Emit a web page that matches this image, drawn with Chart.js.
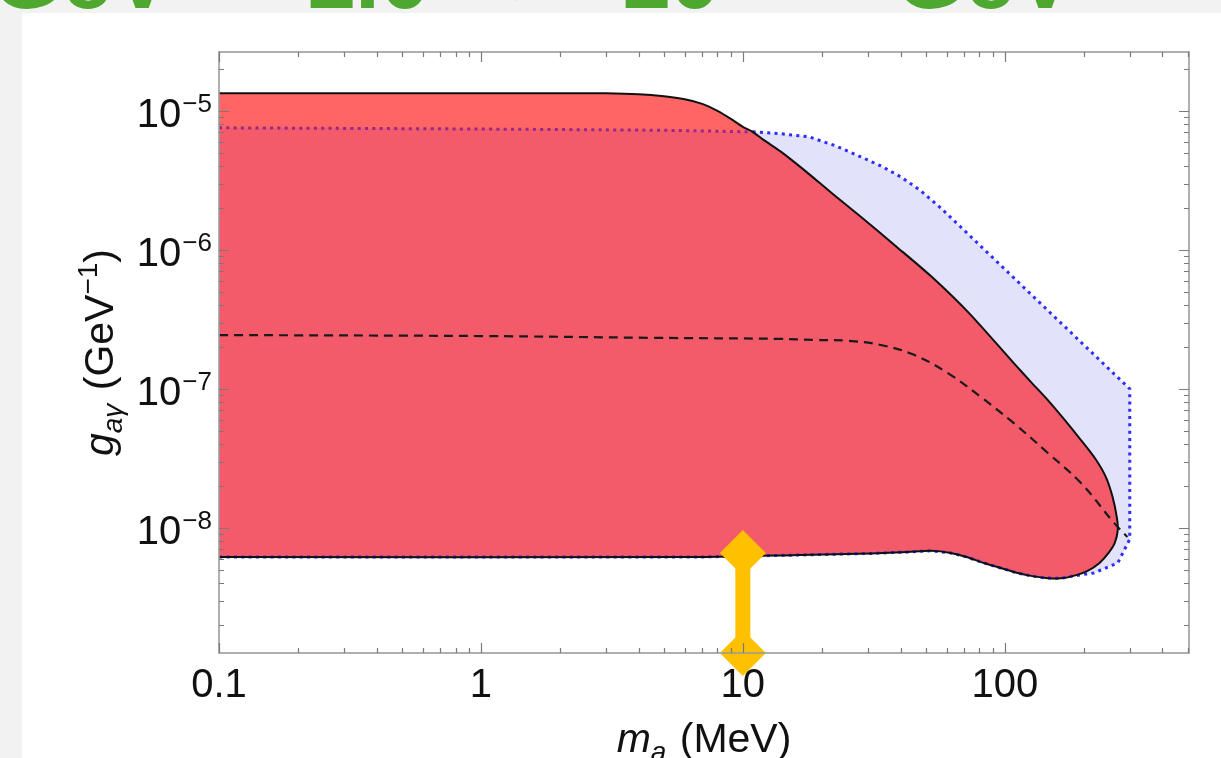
<!DOCTYPE html>
<html lang="en">
<head>
  <meta charset="UTF-8" />
  <title>Axion coupling vs mass</title>
  <script src="https://cdn.jsdelivr.net/npm/chart.js"></script>
  <style>
    html, body {
      margin: 0;
      padding: 0;
      background: #f2f2f2;
      overflow: hidden;
    }

    #page {
      position: relative;
      width: 1221px;
      height: 758px;
      overflow: hidden;
    }

    #panel {
      position: absolute;
      left: 22px;
      top: 13px;
      right: 0;
      bottom: 0;
      background: #ffffff;
    }

    .banner {
      position: absolute;
      top: -68px;
      white-space: nowrap;
      font-family: "Liberation Sans", Arial, sans-serif;
      font-weight: bold;
      font-size: 90px;
      line-height: 90px;
      color: #4ea72e;
    }

    .banner sup {
      font-size: 55px;
      line-height: 0;
      vertical-align: 0;
      position: relative;
      top: -38px;
    }

    #chart-box {
      position: absolute;
      left: 0;
      top: 0;
      width: 1221px;
      height: 758px;
    }
  </style>
</head>
<body>
  <div id="page">
    <div id="panel"></div>
    <div class="banner" style="left:-8px">GeV<sup>−1</sup></div>
    <div class="banner" style="left:305px">1.0</div>
    <div class="banner" style="left:506px">×</div>
    <div class="banner" style="left:620px">10<sup>−8</sup></div>
    <div class="banner" style="left:895px">GeV<sup>−1</sup></div>
    <div id="chart-box">
      <canvas id="myChart"></canvas>
    </div>
  </div>

  <script>
    // axes
    const massTicks = [0.1, 1, 10, 100];
    const massTickLabels = ['0.1', '1', '10', '100'];
    const couplingTicks = [1e-8, 1e-7, 1e-6, 1e-5];
    const couplingTickExponents = ['−8', '−7', '−6', '−5'];

    // red excluded region: top edge left -> nose -> bottom edge back to the left
    const redMass = [0.1, 0.3, 1, 2, 3, 4, 5, 6, 7, 8, 9, 10, 10.9, 12, 14, 17.3, 22, 28.2, 38.7, 52.6, 72.9, 108, 126, 146, 168, 195, 222, 243, 258, 268, 270, 263, 249, 230, 207, 183, 164, 143, 126, 112, 96.5, 83.2, 71.6, 62.2, 52.2, 42.7, 30.8, 16.6, 6.9, 0.1];
    const redCoupling = [1.34e-5, 1.34e-5, 1.34e-5, 1.34e-5, 1.336e-5, 1.315e-5, 1.271e-5, 1.21e-5, 1.122e-5, 1.0e-5, 8.76e-6, 7.67e-6, 7.06e-6, 6.18e-6, 5.07e-6, 3.70e-6, 2.53e-6, 1.73e-6, 1.05e-6, 6.4e-7, 3.52e-7, 1.54e-7, 1.12e-7, 8.3e-8, 6.08e-8, 4.3e-8, 3.13e-8, 2.33e-8, 1.67e-8, 1.18e-8, 9.68e-9, 7.8e-9, 6.61e-9, 5.6e-9, 4.91e-9, 4.52e-9, 4.34e-9, 4.37e-9, 4.52e-9, 4.74e-9, 5.15e-9, 5.6e-9, 6.18e-9, 6.61e-9, 6.84e-9, 6.72e-9, 6.56e-9, 6.39e-9, 6.18e-9, 6.18e-9];

    // blue (dotted) region
    const blueMass = [0.1, 1, 5, 10.9, 14, 17.9, 22.6, 28.2, 33.6, 40.1, 47.8, 57, 67.9, 300, 300, 270, 219, 183, 164, 143, 126, 112, 96.5, 83.2, 71.6, 62.2, 52.2, 42.7, 30.8, 16.6, 6.9, 0.1];
    const blueCoupling = [7.55e-6, 7.4e-6, 7.25e-6, 7.06e-6, 6.84e-6, 6.5e-6, 5.6e-6, 4.67e-6, 4.02e-6, 3.35e-6, 2.66e-6, 2.0e-6, 1.46e-6, 1.0e-7, 8.3e-9, 5.6e-9, 4.74e-9, 4.52e-9, 4.34e-9, 4.37e-9, 4.52e-9, 4.74e-9, 5.15e-9, 5.6e-9, 6.18e-9, 6.61e-9, 6.84e-9, 6.72e-9, 6.56e-9, 6.39e-9, 6.18e-9, 6.18e-9];

    // dashed curve
    const dashedMass = [0.1, 1, 4.5, 14, 18.7, 25.2, 33.6, 45, 60.6, 81, 108, 146, 195, 261, 294];
    const dashedCoupling = [2.44e-7, 2.40e-7, 2.33e-7, 2.29e-7, 2.25e-7, 2.22e-7, 2.07e-7, 1.76e-7, 1.30e-7, 8.75e-8, 5.69e-8, 3.46e-8, 2.11e-8, 1.09e-8, 8.6e-9];

    // yellow range marker
    const markerMass = [10, 10];
    const markerCoupling = [6.6e-9, 1.26e-9];

    const toPoints = (xs, ys) => xs.map((x, i) => ({ x: x, y: ys[i] }));

    const redPoints = toPoints(redMass, redCoupling);
    const bluePoints = toPoints(blueMass, blueCoupling);

    // part of the red region lying above the blue curve
    const redCross = redMass.indexOf(10.9);
    const blueCross = blueMass.indexOf(10.9);
    const stripPoints = toPoints(redMass.slice(0, redCross + 1), redCoupling.slice(0, redCross + 1))
      .concat(toPoints(blueMass.slice(0, blueCross), blueCoupling.slice(0, blueCross)).reverse());

    const FONT = '"Liberation Sans", Arial, sans-serif';

    function drawPieces(ctx, pieces, x, y) {
      let total = 0;
      for (const p of pieces) {
        ctx.font = p.font;
        p.w = ctx.measureText(p.text).width;
        total += p.w + (p.gap || 0);
      }
      let cx = x - total / 2;
      for (const p of pieces) {
        ctx.font = p.font;
        ctx.fillText(p.text, cx, y + (p.dy || 0));
        cx += p.w + (p.gap || 0);
      }
    }

    const framePlugin = {
      id: 'frame',
      afterDatasetsDraw(chart) {
        const { ctx, chartArea: a, scales: { x, y } } = chart;
        ctx.save();

        // frame
        ctx.strokeStyle = '#9c9c9c';
        ctx.lineWidth = 1.6;
        ctx.strokeRect(a.left, a.top, a.right - a.left, a.bottom - a.top);

        // ticks on all four sides
        ctx.strokeStyle = '#7a7a7a';
        ctx.lineWidth = 1.2;
        ctx.beginPath();
        for (let d = -1; d <= 2; d++) {
          for (let k = 1; k <= 9; k++) {
            const v = k * Math.pow(10, d);
            if (v < x.min || v > x.max) continue;
            const px = Math.round(x.getPixelForValue(v)) + 0.5;
            const len = k === 1 ? 10 : 5;
            ctx.moveTo(px, a.bottom); ctx.lineTo(px, a.bottom - len);
            ctx.moveTo(px, a.top); ctx.lineTo(px, a.top + len);
          }
        }
        for (let d = -9; d <= -5; d++) {
          for (let k = 1; k <= 9; k++) {
            const v = k * Math.pow(10, d);
            if (v < y.min || v > y.max) continue;
            const py = Math.round(y.getPixelForValue(v)) + 0.5;
            const len = k === 1 ? 10 : 5;
            ctx.moveTo(a.left, py); ctx.lineTo(a.left + len, py);
            ctx.moveTo(a.right, py); ctx.lineTo(a.right - len, py);
          }
        }
        ctx.stroke();

        // tick labels
        ctx.fillStyle = '#111';
        ctx.textBaseline = 'alphabetic';
        ctx.font = '40px ' + FONT;
        ctx.textAlign = 'center';
        massTicks.forEach((v, i) => {
          ctx.fillText(massTickLabels[i], x.getPixelForValue(v), a.bottom + 44);
        });

        ctx.textAlign = 'right';
        couplingTicks.forEach((v, i) => {
          const py = y.getPixelForValue(v);
          ctx.font = '26px ' + FONT;
          const supW = ctx.measureText(couplingTickExponents[i]).width;
          ctx.fillText(couplingTickExponents[i], a.left - 7, py + 1);
          ctx.font = '40px ' + FONT;
          ctx.fillText('10', a.left - 8 - supW, py + 16);
        });

        // axis titles
        ctx.textAlign = 'left';
        drawPieces(ctx, [
          { text: 'm', font: 'italic 41px ' + FONT },
          { text: 'a', font: 'italic 28px ' + FONT, dy: 9, gap: 2 },
          { text: ' (MeV)', font: '41px ' + FONT }
        ], (a.left + a.right) / 2, 752);

        ctx.translate(113, (a.top + a.bottom) / 2);
        ctx.rotate(-Math.PI / 2);
        drawPieces(ctx, [
          { text: 'g', font: 'italic 41px ' + FONT },
          { text: 'aγ', font: 'italic 28px ' + FONT, dy: 9, gap: 2 },
          { text: ' (GeV', font: '41px ' + FONT },
          { text: '−1', font: '28px ' + FONT, dy: -16 },
          { text: ')', font: '41px ' + FONT }
        ], 0, 0);

        ctx.restore();
      }
    };

    new Chart(document.getElementById('myChart').getContext('2d'), {
      type: 'line',
      data: {
        datasets: [
          {
            label: 'marker',
            data: toPoints(markerMass, markerCoupling),
            borderColor: '#ffc000',
            borderWidth: 15,
            pointStyle: 'rectRot',
            pointRadius: 23,
            pointBackgroundColor: '#ffc000',
            pointBorderWidth: 0,
            clip: false,
            fill: false
          },
          {
            label: 'dashed',
            data: toPoints(dashedMass, dashedCoupling),
            borderColor: '#1a1a1a',
            borderWidth: 2.2,
            borderDash: [9, 6],
            pointRadius: 0,
            tension: 0.4,
            fill: false
          },
          {
            label: 'red outline',
            data: redPoints,
            borderColor: '#111111',
            borderWidth: 2,
            pointRadius: 0,
            tension: 0.25,
            fill: false
          },
          {
            label: 'blue outline',
            data: bluePoints,
            borderColor: '#2d2dff',
            borderWidth: 3,
            borderDash: [3, 4.3],
            pointRadius: 0,
            tension: 0,
            fill: false,
            segment: {
              borderColor: c => (c.p1.parsed.x <= 10.9 && c.p1.parsed.y > 1e-6) ? '#942a86' : undefined
            }
          },
          {
            label: 'red strip',
            data: stripPoints,
            backgroundColor: '#ff6565',
            borderColor: 'transparent',
            borderWidth: 0,
            pointRadius: 0,
            tension: 0.25,
            fill: 'shape'
          },
          {
            label: 'red region',
            data: redPoints,
            backgroundColor: '#f35b6b',
            borderColor: 'transparent',
            borderWidth: 0,
            pointRadius: 0,
            tension: 0.25,
            fill: 'shape'
          },
          {
            label: 'blue region',
            data: bluePoints,
            backgroundColor: '#e2e2fb',
            borderColor: 'transparent',
            borderWidth: 0,
            pointRadius: 0,
            tension: 0,
            fill: 'shape'
          }
        ]
      },
      options: {
        responsive: true,
        maintainAspectRatio: false,
        animation: false,
        events: [],
        layout: { padding: { left: 219, top: 52, right: 32, bottom: 105 } },
        plugins: { legend: { display: false }, tooltip: { enabled: false } },
        scales: {
          x: { type: 'logarithmic', min: 0.1, max: 505, display: false },
          y: { type: 'logarithmic', min: 1.26e-9, max: 2.65e-5, display: false }
        }
      },
      plugins: [framePlugin]
    });
  </script>
</body>
</html>
